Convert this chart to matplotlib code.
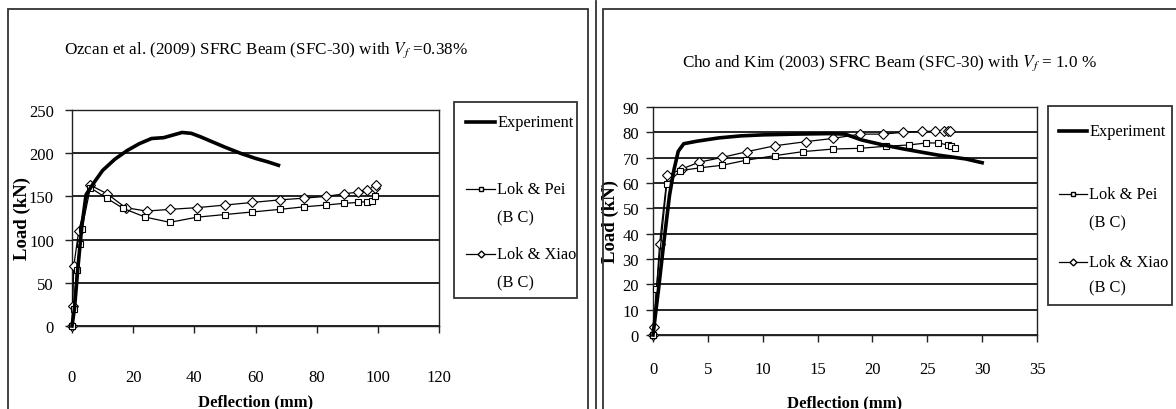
import numpy as np
import matplotlib
matplotlib.use('Agg')
import matplotlib.pyplot as plt
from matplotlib.lines import Line2D
from matplotlib.patches import Rectangle

plt.rcParams['font.family'] = ['Liberation Serif', 'DejaVu Serif']
plt.rcParams['mathtext.fontset'] = 'stix'

# Ozcan et al. (2009), Vf = 0.38 %
oz_exp_x = [0, 0.8, 2.0, 3.2, 4.6, 7, 10, 14, 18, 22, 26, 30, 33, 36, 39, 42, 46, 50, 55, 60, 64, 67.5]
oz_exp_y = [0, 20, 70, 115, 152, 165, 180, 193, 203, 211, 217, 218, 221, 224, 223, 219, 213, 207, 200, 194, 190, 186]
oz_pei_x = [0, 0.5, 1.5, 2.6, 3.2, 6, 11.3, 16.8, 24, 32, 41, 50, 59, 68, 76, 83, 89, 93.5, 96.5, 98, 99]
oz_pei_y = [0, 20, 65, 95, 112, 160, 148, 136, 126, 120, 126, 129, 132, 135, 138, 140, 142, 143, 144, 145, 150]
oz_xiao_x = [0, 0.2, 0.6, 2.2, 6, 11.5, 17.5, 24.4, 32, 41, 50, 59, 68, 76, 83, 89, 93.5, 96.5, 99, 99.5]
oz_xiao_y = [0, 23, 70, 110, 163, 153, 137, 133, 135, 137, 140, 143, 146, 148, 150, 153, 155, 157, 160, 163]

# Cho and Kim (2003), Vf = 1.0 %
ck_exp_x = [0, 0.5, 1.0, 1.5, 1.9, 2.3, 2.8, 4, 6, 8, 10, 13, 16, 17.5, 19, 21, 23, 26, 28.5, 30]
ck_exp_y = [0, 18, 37, 55, 65, 72.5, 75.5, 76.5, 77.8, 78.6, 79, 79.3, 79.5, 79.3, 77, 75, 73.3, 71, 69.5, 68]
ck_pei_x = [0, 0.3, 1.25, 2.5, 4.3, 6.3, 8.5, 11.1, 13.7, 16.4, 18.9, 21.2, 23.3, 24.9, 26, 26.9, 27.2, 27.5]
ck_pei_y = [0, 18, 59.6, 64.9, 66, 67, 69, 70.8, 72.4, 73.4, 73.7, 74.5, 75, 75.8, 75.8, 75, 74.5, 74]
ck_xiao_x = [0, 0.1, 0.6, 1.3, 2.6, 4.2, 6.3, 8.6, 11.1, 13.9, 16.4, 18.9, 21, 22.8, 24.5, 25.7, 26.5, 26.9, 27.1]
ck_xiao_y = [0, 3, 36, 63, 65.5, 68.2, 70.1, 72.4, 74.7, 76.3, 77.6, 79.3, 79.3, 80, 80.4, 80.4, 80.4, 80.4, 80.7]

series_labels = ['Experiment', 'Lok & Pei', 'Lok & Xiao']

W, H = 1176, 410


def fx(x):
    return x / W


def fy(y):
    return 1 - y / H


fig = plt.figure(figsize=(W / 100, H / 100), dpi=100)

# panel frames and the double separator
for x0, x1 in [(8, 588), (603, 1200)]:
    fig.add_artist(Rectangle((fx(x0), fy(430)), fx(x1) - fx(x0), fy(10) - fy(430),
                             transform=fig.transFigure, fill=False, ec='#333333', lw=1.3))
fig.add_artist(Line2D([fx(596), fx(596)], [fy(2), fy(420)], transform=fig.transFigure,
                      color='#333333', lw=1.3))


def make_axes(rect_px, xmax, xstep, ymax, ystep, xpad, ypad, ylab_x, xlab_y):
    x0, y0, x1, y1 = rect_px
    ax = fig.add_axes([fx(x0), fy(y1), fx(x1) - fx(x0), fy(y0) - fy(y1)])
    ax.set_xlim(0, xmax)
    ax.set_ylim(0, ymax)
    ax.set_xticks(np.arange(0, xmax + 1, xstep))
    ax.set_yticks(np.arange(0, ymax + 1, ystep))
    ax.yaxis.grid(True, color='black', lw=1.2)
    ax.set_axisbelow(True)
    for s in ax.spines.values():
        s.set_color('#222222')
        s.set_linewidth(1.0)
    ax.tick_params(direction='out', length=5, width=1, color='#222222', labelsize=12)
    ax.tick_params(axis='x', pad=xpad)
    ax.tick_params(axis='y', pad=ypad)
    ax.set_ylabel('Load (kN)', fontsize=13.5, fontweight='bold')
    ax.set_xlabel('Deflection (mm)', fontsize=12, fontweight='bold')
    ax.yaxis.set_label_coords(ylab_x, 0.5)
    ax.xaxis.set_label_coords(0.5, xlab_y)
    return ax


def draw_series(ax, ex, ey, px, py, qx, qy):
    ax.plot(qx, qy, color='black', lw=0.9, marker='D', ms=5.5, mfc='white', mec='black',
            mew=0.8, clip_on=False, zorder=3)
    ax.plot(px, py, color='black', lw=0.9, marker='s', ms=4, mfc='white', mec='black',
            mew=0.8, clip_on=False, zorder=3)
    ax.plot(ex, ey, color='black', lw=2.6, clip_on=False, zorder=4)


def draw_legend(box, hx, rows):
    x0, y0, x1, y1 = box
    fig.add_artist(Rectangle((fx(x0), fy(y1)), fx(x1) - fx(x0), fy(y0) - fy(y1),
                             transform=fig.transFigure, fill=False, ec='#333333', lw=1.3))
    styles = [dict(lw=2.6, marker=None),
              dict(lw=0.9, marker='s', ms=3),
              dict(lw=0.9, marker='D', ms=3.5)]
    xs = [fx(hx[0]), fx((hx[0] + hx[1]) / 2), fx(hx[1])]
    for (y, gap), label, st in zip(rows, series_labels, styles):
        fig.add_artist(Line2D(xs, [fy(y)] * 3, transform=fig.transFigure, color='black',
                              mfc='white', mec='black', markevery=[1], **st))
        fig.text(fx(hx[1] + 2), fy(y), label, fontsize=11.8, va='center', ha='left')
        if gap:
            fig.text(fx(hx[1] + 2), fy(y + gap), '(B C)', fontsize=11.8, va='center', ha='left')


# left chart
ax1 = make_axes((72, 111, 439, 327), 120, 20, 250, 50, 26, 8, -0.112, -0.31)
draw_series(ax1, oz_exp_x, oz_exp_y, oz_pei_x, oz_pei_y, oz_xiao_x, oz_xiao_y)
fig.text(fx(266), fy(50), r'Ozcan et al. (2009) SFRC Beam (SFC-30) with $V_f$ =0.38%',
         fontsize=12.3, ha='center', va='center')
draw_legend((454, 103, 577, 299), (466, 495), [(123, 0), (190, 28), (255, 28)])

# right chart
ax2 = make_axes((653, 108, 1037, 336), 35, 5, 90, 10, 14, 5, -0.088, -0.26)
draw_series(ax2, ck_exp_x, ck_exp_y, ck_pei_x, ck_pei_y, ck_xiao_x, ck_xiao_y)
fig.text(fx(889), fy(63), r'Cho and Kim (2003) SFRC Beam (SFC-30) with $V_f$ = 1.0 %',
         fontsize=12.3, ha='center', va='center')
draw_legend((1048, 107, 1172, 306), (1059, 1087), [(132, 0), (195, 28), (263, 25)])

fig.savefig('out.png', dpi=100)
